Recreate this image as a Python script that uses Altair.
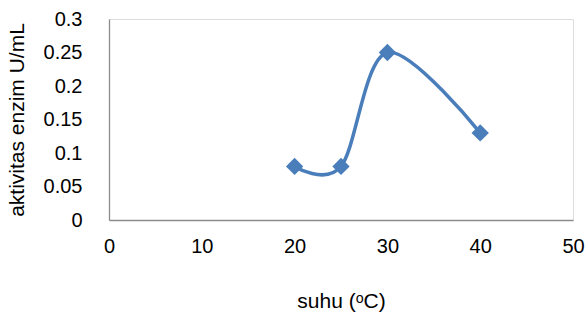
import altair as alt
import pandas as pd

suhu = [20, 25, 30, 40]
aktivitas = [0.08, 0.08, 0.25, 0.13]
x_ticks = [0, 10, 20, 30, 40, 50]
y_ticks = [0, 0.05, 0.1, 0.15, 0.2, 0.25, 0.3]

df = pd.DataFrame({"suhu": suhu, "aktivitas": aktivitas})
color = "#4a7ebb"
font = "Liberation Sans"

x = alt.X("suhu:Q", scale=alt.Scale(domain=[0, 50], nice=False),
          axis=alt.Axis(values=x_ticks, title="suhu (ᵒC)", grid=False, ticks=False,
                        domainColor="#8c8c8c", domainWidth=1.3, format="d",
                        labelFontSize=20, labelFont=font, labelColor="#000000",
                        labelPadding=16, titleFontSize=21, titleFont=font,
                        titleFontWeight="normal", titleColor="#000000",
                        titlePadding=34, labelFlush=False))
y = alt.Y("aktivitas:Q", scale=alt.Scale(domain=[0, 0.3], nice=False),
          axis=alt.Axis(values=y_ticks, title="aktivitas enzim U/mL", grid=False, ticks=False,
                        domainColor="#8c8c8c", domainWidth=1.3, format="~g",
                        labelFontSize=20, labelFont=font, labelColor="#000000",
                        labelPadding=27, titleFontSize=21, titleFont=font,
                        titleFontWeight="normal", titleColor="#000000",
                        titlePadding=16, labelFlush=False))

line = alt.Chart(df).mark_line(interpolate="cardinal", color=color, strokeWidth=3.5).encode(x=x, y=y)
pts = alt.Chart(df).mark_point(shape="diamond", filled=True, color=color, size=300, opacity=1).encode(x=x, y=y)

chart = (line + pts).properties(
    width=464, height=201,
    autosize=alt.AutoSizeParams(type="none"),
    padding={"left": 109, "top": 19, "right": 15, "bottom": 109},
).configure_view(stroke=None).configure(background="white")

chart.save("out.html", embed_options={"renderer": "svg", "actions": False})
